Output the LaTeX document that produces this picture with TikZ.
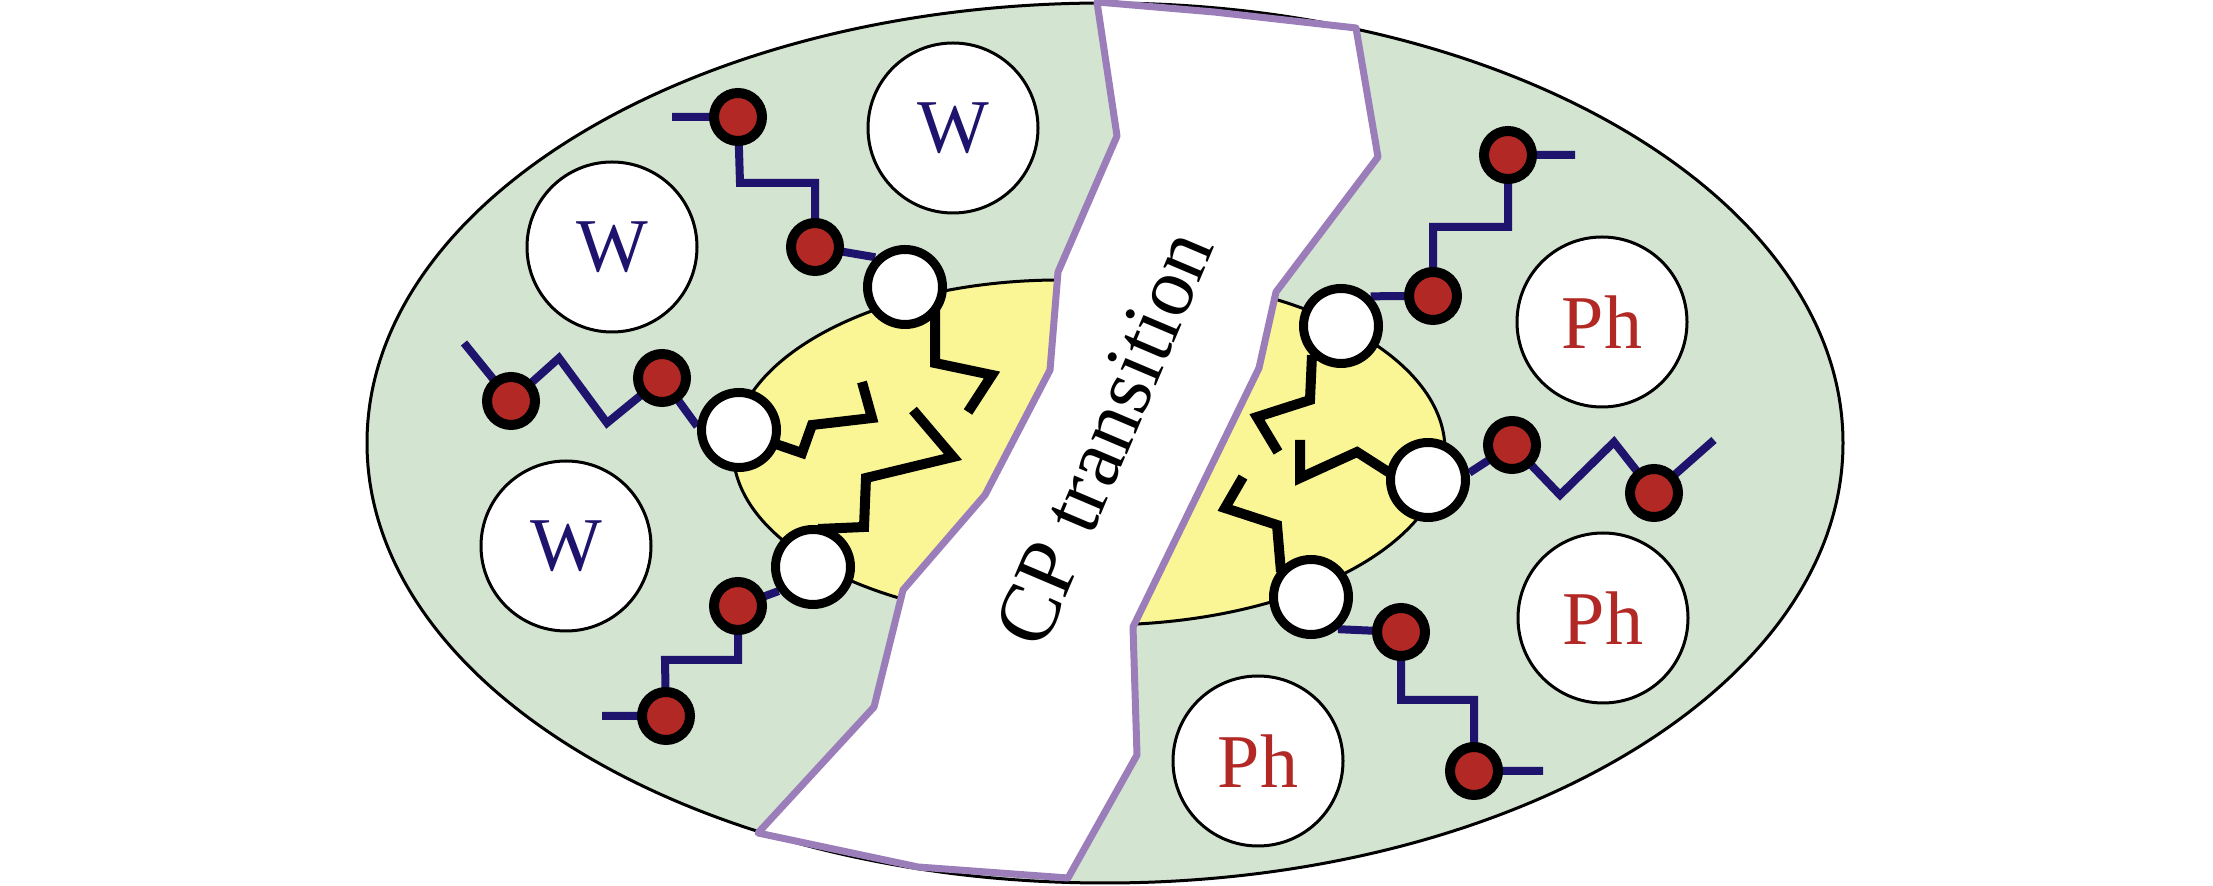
\documentclass[tikz,border=0pt]{standalone}
\usepackage{fontspec}
\setmainfont{Liberation Serif}
\pgfdeclarelayer{back}
\pgfdeclarelayer{chains}
\pgfsetlayers{back,chains,main}

\begin{document}
\begin{tikzpicture}[x=0.5pt,y=0.5pt,yscale=-1,xscale=1,
  head/.style={circle, draw={rgb, 255:red, 0; green, 0; blue, 0 }, line width=4.5pt, fill=white, minimum size=37.5pt, inner sep=0pt},
  bead/.style={circle, draw={rgb, 255:red, 0; green, 0; blue, 0 }, line width=5pt, fill={rgb, 255:red, 178; green, 40; blue, 36 }, minimum size=24pt, inner sep=0pt},
  solv/.style={circle, draw={rgb, 255:red, 0; green, 0; blue, 0 }, line width=1.5pt, fill=white, minimum size=85pt, inner sep=0pt, font=\fontsize{38}{42}\selectfont},
  chain/.style={draw={rgb, 255:red, 30; green, 20; blue, 110 }, line width=4pt},
  tail/.style={draw={rgb, 255:red, 0; green, 0; blue, 0 }, line width=5pt},
  core/.style={draw={rgb, 255:red, 0; green, 0; blue, 0 }, line width=1.5pt, fill={rgb, 255:red, 250; green, 246; blue, 150 }}]
\useasboundingbox (0,0) rectangle (2213,886);

%Band corners
\coordinate (t1) at (1097,2);
\coordinate (l1) at (1117,136);
\coordinate (l2) at (1058,272);
\coordinate (l3) at (1050,370);
\coordinate (l4) at (985,495);
\coordinate (l5) at (903,590);
\coordinate (l6) at (874,707);
\coordinate (l7) at (758,833);
\coordinate (b1) at (918,867);
\coordinate (b2) at (1068,878);
\coordinate (r1) at (1137,755);
\coordinate (r2) at (1133,627);
\coordinate (r3) at (1259,368);
\coordinate (r4) at (1276,292);
\coordinate (r5) at (1378,157);
\coordinate (t2) at (1356,28);
\coordinate (t3) at (1214,12);

\begin{pgfonlayer}{back}
%Shape: Ellipse
\draw [line width=1.5pt, fill={rgb, 255:red, 211; green, 228; blue, 208 }] (1105,443) ellipse (738 and 440);

%Shape: Ellipse (left core)
\begin{scope}
\clip (0,0) -- (1097,0) -- (t1) -- (l1) -- (l2) -- (l3) -- (l4) -- (l5) -- (l6) -- (l7) -- (0,886) -- cycle;
\draw [core] (1060,450) ellipse (327 and 170);
\end{scope}
%Shape: Ellipse (right core)
\begin{scope}
\clip (2213,0) -- (1356,0) -- (t2) -- (r5) -- (r4) -- (r3) -- (r2) -- (r1) -- (b2) -- (1068,886) -- (2213,886) -- cycle;
\draw [core] (1100,450) ellipse (345 and 175);
\end{scope}

%Shape: Polygon
\draw [draw={rgb, 255:red, 155; green, 125; blue, 185 }, line width=3.5pt, fill=white, line join=round] (t1) -- (l1) -- (l2) -- (l3) -- (l4) -- (l5) -- (l6) -- (l7) -- (b1) -- (b2) -- (r1) -- (r2) -- (r3) -- (r4) -- (r5) -- (t2) -- (t3) -- cycle;
\end{pgfonlayer}

%Shape: Circle
\node [head] (h1) at (905,287) {};
\node [head] (h2) at (739,430) {};
\node [head] (h3) at (813,567) {};
\node [head] (h4) at (1341,326) {};
\node [head] (h5) at (1428,480) {};
\node [head] (h6) at (1311,597) {};

\node [bead] (a1) at (815,247) {};
\node [bead] (a2) at (738,117) {};
\node [bead] (c1) at (662,378) {};
\node [bead] (c2) at (511,401) {};
\node [bead] (d1) at (738,606) {};
\node [bead] (d2) at (666,716) {};
\node [bead] (e1) at (1433,296) {};
\node [bead] (e2) at (1508,155) {};
\node [bead] (f1) at (1512,445) {};
\node [bead] (f2) at (1654,493) {};
\node [bead] (g1) at (1401,632) {};
\node [bead] (g2) at (1474,771) {};

\begin{pgfonlayer}{chains}
%Straight Lines
\draw [chain] (h1.135) -- (a1.center) |- (740,183) -- (a2.center) -- ++(-66,0);
\draw [chain] (h2.175) -- (c1.center) -- (607,423) -- (559,358) -- (c2.center) -- (464,343);
\draw [chain] (h3.215) -- (d1.center) |- (665,660) -- (d2.center) -- ++(-64,0);
\draw [chain] (h4.45) -- (e1.center) |- (1508,227) -- (e2.center) -- ++(67,0);
\draw [chain] (h5.10) -- (f1.center) -- (1560,495) -- (1614,442) -- (f2.center) -- (1714,440);
\draw [chain] (h6.-50) -- (g1.center) |- (1474,700) -- (g2.center) -- ++(69,0);

\draw [tail] (h1.center) ++(30,13) -- (935,363) -- (992,375) -- (968,412);
\draw [tail] (h2.center) ++(25,10) -- (802,453) -- (812,425) -- (872,418) -- (862,382);
\draw [tail] (h3.center) ++(5,-38) -- (864,527) -- (866,478) -- (953,457) -- (913,410);
\draw [tail] (h4.center) ++(-29,29) -- (1310,400) -- (1257,417) -- (1278,452);
\draw [tail] (h5.center) ++(-35,-5) -- (1357,452) -- (1300,478) -- (1300,440);
\draw [tail] (h6.center) ++(-30,-25) -- (1277,525) -- (1225,508) -- (1243,477);
\end{pgfonlayer}

% Text Node
\node [solv, text={rgb, 255:red, 30; green, 20; blue, 110 }] (w1) at (953,128) {W};
\node [solv, text={rgb, 255:red, 30; green, 20; blue, 110 }] (w2) at (612,247) {W};
\node [solv, text={rgb, 255:red, 30; green, 20; blue, 110 }] (w3) at (566,546) {W};
\node [solv, text={rgb, 255:red, 178; green, 40; blue, 36 }] (p1) at (1602,322) {Ph};
\node [solv, text={rgb, 255:red, 178; green, 40; blue, 36 }] (p2) at (1603,618) {Ph};
\node [solv, text={rgb, 255:red, 178; green, 40; blue, 36 }] (p3) at (1258,761) {Ph};

\node [rotate=67, font=\fontsize{42}{46}\selectfont] (cp) at (1104,438) {CP transition};

\end{tikzpicture}
\end{document}
